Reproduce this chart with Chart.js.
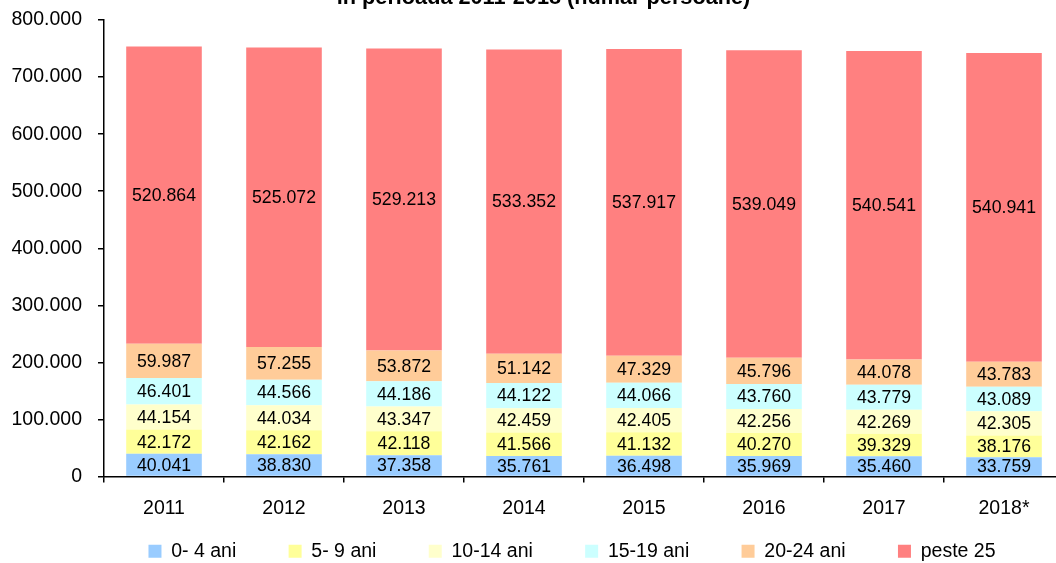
<!DOCTYPE html>
<html>
<head>
<meta charset="utf-8">
<script src="https://cdn.jsdelivr.net/npm/chart.js@4/dist/chart.umd.min.js"></script>
<style>
    html, body { margin: 0; padding: 0; overflow: hidden; background: #fff; }
    #wrap { position: relative; width: 1144px; height: 571px; }
</style>
</head>
<body>
<div id="wrap"><canvas id="chart"></canvas></div>
<script>
const years = ['2011', '2012', '2013', '2014', '2015', '2016', '2017', '2018*'];
const age0to4 = [40041, 38830, 37358, 35761, 36498, 35969, 35460, 33759];
const age5to9 = [42172, 42162, 42118, 41566, 41132, 40270, 39329, 38176];
const age10to14 = [44154, 44034, 43347, 42459, 42405, 42256, 42269, 42305];
const age15to19 = [46401, 44566, 44186, 44122, 44066, 43760, 43779, 43089];
const age20to24 = [59987, 57255, 53872, 51142, 47329, 45796, 44078, 43783];
const over25 = [520864, 525072, 529213, 533352, 537917, 539049, 540541, 540941];

const titleText = 'în perioada 2011-2018 (număr persoane)';
const fontFamily = '"Liberation Sans", Arial, sans-serif';
const fmt = (v) => String(v).replace(/\B(?=(\d{3})+(?!\d))/g, '.');

const series = [
    { label: '0- 4 ani', data: age0to4, color: '#99ccff' },
    { label: '5- 9 ani', data: age5to9, color: '#ffff99' },
    { label: '10-14 ani', data: age10to14, color: '#ffffcc' },
    { label: '15-19 ani', data: age15to19, color: '#ccffff' },
    { label: '20-24 ani', data: age20to24, color: '#ffcc99' },
    { label: 'peste 25', data: over25, color: '#ff8080' },
];

// values written in the middle of every segment
const segmentLabels = {
    id: 'segmentLabels',
    afterDatasetsDraw(chart) {
        const { ctx } = chart;
        ctx.save();
        ctx.font = '17.7px ' + fontFamily;
        ctx.fillStyle = '#000';
        ctx.textAlign = 'center';
        ctx.textBaseline = 'middle';
        chart.data.datasets.forEach((ds, i) => {
            chart.getDatasetMeta(i).data.forEach((bar, j) => {
                const mid = (bar.y + bar.base) / 2;
                ctx.fillText(fmt(ds.data[j]), bar.x, mid + 1);
            });
        });
        ctx.restore();
    },
};

// the title is cut off by the top edge in the source picture
const croppedTitle = {
    id: 'croppedTitle',
    afterDraw(chart) {
        const { ctx } = chart;
        ctx.save();
        ctx.font = 'bold 21.7px ' + fontFamily;
        ctx.fillStyle = '#000';
        ctx.textAlign = 'center';
        ctx.textBaseline = 'alphabetic';
        ctx.fillText(titleText, 543.5, 4);
        ctx.restore();
    },
};

const legendGap = '        ';

new Chart(document.getElementById('chart'), {
    type: 'bar',
    data: {
        labels: years,
        datasets: series.map((s) => ({
            label: s.label,
            data: s.data,
            backgroundColor: s.color,
            borderWidth: 0,
            barPercentage: 0.63,
            categoryPercentage: 1,
        })),
    },
    options: {
        responsive: true,
        maintainAspectRatio: false,
        animation: false,
        layout: { padding: { left: 0, right: 0, top: 20, bottom: 0 } },
        scales: {
            x: {
                stacked: true,
                afterFit: (scale) => { scale.height = 56; },
                grid: { display: true, offset: true, drawOnChartArea: false, tickLength: 6, color: '#000', lineWidth: 1.5 },
                border: { display: true, color: '#000', width: 1.5 },
                ticks: { color: '#000', font: { size: 19.5, family: fontFamily }, padding: 14, maxRotation: 0 },
            },
            y: {
                stacked: true,
                min: 0,
                max: 800000,
                afterFit: (scale) => {
                    scale.width = 104;
                    scale.paddingTop = 12;
                    scale.paddingBottom = 12;
                },
                grid: { display: true, drawOnChartArea: false, tickLength: 6, color: '#000', lineWidth: 1.5 },
                border: { display: true, color: '#000', width: 1.5 },
                ticks: {
                    stepSize: 100000,
                    color: '#000',
                    padding: 16,
                    font: { size: 19.5, family: fontFamily },
                    callback: (v) => (v === 0 ? '0' : fmt(v)),
                },
            },
            // empty strip on the right, past the cropped edge
            spacer: {
                position: 'right',
                afterFit: (scale) => { scale.width = 80; },
                grid: { display: false },
                border: { display: false },
                ticks: { display: false },
            },
        },
        plugins: {
            title: { display: false },
            legend: {
                position: 'bottom',
                labels: {
                    color: '#000',
                    boxWidth: 13,
                    boxHeight: 13,
                    padding: 9,
                    font: { size: 19.5, family: fontFamily },
                    generateLabels: (chart) => Chart.defaults.plugins.legend.labels.generateLabels(chart)
                        .map((item, i, all) => ({ ...item, text: i < all.length - 1 ? item.text + legendGap : item.text })),
                },
            },
            tooltip: { enabled: false },
        },
    },
    plugins: [segmentLabels, croppedTitle],
});
</script>
</body>
</html>
